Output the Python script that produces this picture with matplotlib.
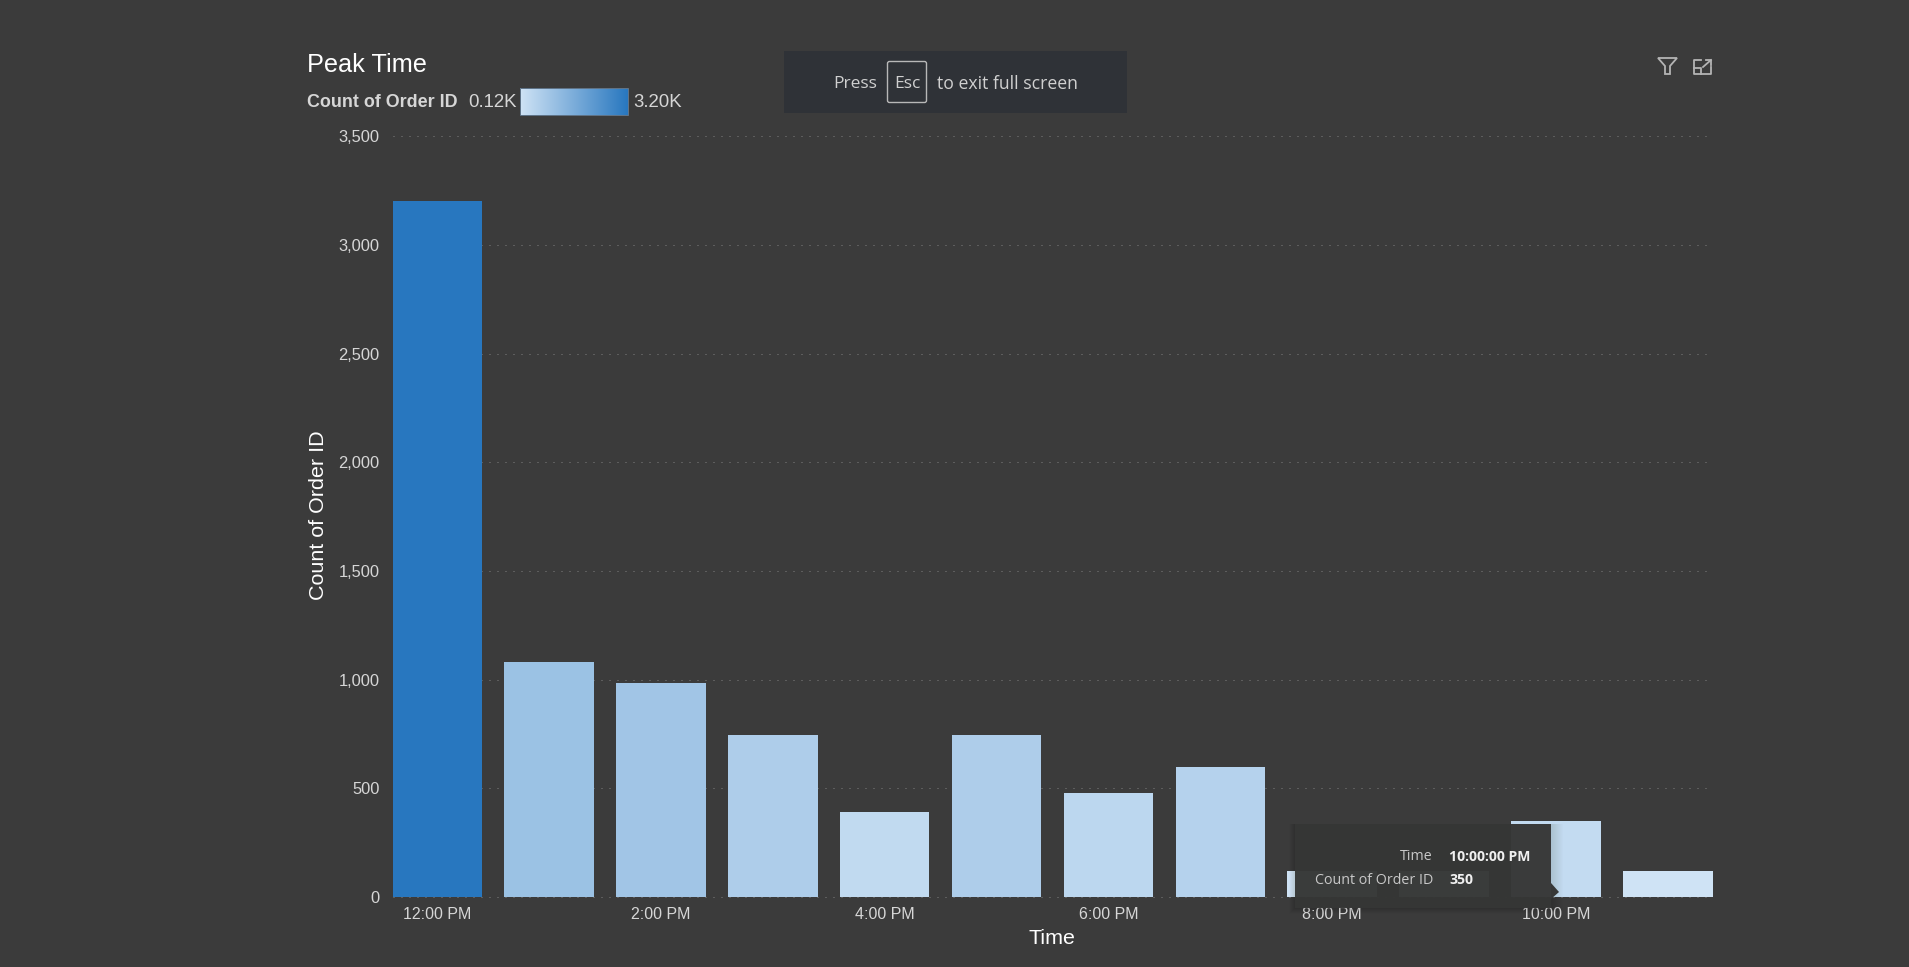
import matplotlib
matplotlib.use("Agg")
import matplotlib.pyplot as plt
import numpy as np
from matplotlib.colors import LinearSegmentedColormap, Normalize
from matplotlib.patches import Rectangle, Polygon, FancyBboxPatch

plt.rcParams['font.family'] = ['Liberation Sans', 'DejaVu Sans']

hours = ["12:00 PM", "1:00 PM", "2:00 PM", "3:00 PM", "4:00 PM", "5:00 PM",
         "6:00 PM", "7:00 PM", "8:00 PM", "9:00 PM", "10:00 PM", "11:00 PM"]
order_counts = [3204, 1080, 985, 745, 390, 744, 480, 600, 121, 120, 350, 120]
y_ticks = [0, 500, 1000, 1500, 2000, 2500, 3000, 3500]

W, H = 1909, 967
BG = "#3b3b3b"
TXT = "#d6d6d6"

# px to pt, figure is at dpi 100
def px(p):
    return p * 0.72

fig = plt.figure(figsize=(W / 100, H / 100), dpi=100, facecolor=BG)

# main chart, bars start at x=392.5 and baseline sits at y=897
ax = fig.add_axes([392.5 / W, (H - 897) / H, (1712.5 - 392.5) / W, (897 - 136.5) / H], facecolor=BG)
cmap = LinearSegmentedColormap.from_list("blues", ["#cfe3f5", "#2877bf"])
norm = Normalize(min(order_counts), max(order_counts))
x = np.arange(len(hours))
ax.bar(x, order_counts, width=0.8, color=cmap(norm(order_counts)), zorder=2)
ax.set_xlim(-0.4, len(hours) - 0.6)
ax.set_ylim(0, 3500)
ax.set_xticks(x[::2])
ax.set_xticklabels(hours[::2], color=TXT, fontsize=px(16))
ax.set_yticks(y_ticks)
ax.set_yticklabels([f"{v:,}" for v in y_ticks], color=TXT, fontsize=px(16.5))
ax.tick_params(axis="both", length=0)
ax.tick_params(axis="x", pad=7)
ax.tick_params(axis="y", pad=9.5)
ax.grid(axis="y", color="#808080", lw=0.72, linestyle=(0, (1, 7)), zorder=1)
for line in ax.get_ygridlines():
    line.set_clip_on(False)
ax.set_axisbelow(True)
for s in ax.spines.values():
    s.set_visible(False)

# overlay in pixel coordinates for everything that is not the chart itself
ov = fig.add_axes([0, 0, 1, 1], facecolor="none")
ov.set_xlim(0, W)
ov.set_ylim(H, 0)
ov.axis("off")

ov.text(307, 65, "Peak Time", color="white", fontsize=px(25.2), va="center")
ov.text(1052, 938, "Time", color="white", fontsize=px(21.5), ha="center", va="center")
ov.text(319, 515, "Count of Order ID", color="white", fontsize=px(21.5), rotation=90, ha="center", va="center")

# legend gradient
ov.text(307, 102.5, "Count of Order ID", color=TXT, fontsize=px(17.9), fontweight="bold", va="center")
ov.text(517, 102.5, f"{min(order_counts) / 1000:.2f}K", color=TXT, fontsize=px(18.6), ha="right", va="center")
ov.text(633, 102.5, f"{max(order_counts) / 1000:.2f}K", color=TXT, fontsize=px(18.6), va="center")
grad = np.linspace(0, 1, 256).reshape(1, -1)
ov.imshow(grad, cmap=cmap, extent=(520, 628, 115, 88), aspect="auto", zorder=2)
ov.add_patch(Rectangle((520, 88), 108, 27, fill=False, ec="#5f7387", lw=0.72, zorder=3))
ov.set_xlim(0, W)
ov.set_ylim(H, 0)

# full screen banner
ui_font = ['Open Sans', 'DejaVu Sans']
ov.add_patch(Rectangle((784, 51), 343, 62, fc="#2f3237", ec="none", zorder=4))
ov.add_patch(FancyBboxPatch((887.5, 61.5), 39, 41, boxstyle="round,pad=0,rounding_size=2",
                            fc="none", ec="#b8b8b8", lw=1, zorder=5))
ov.text(855, 84, "Press", color="#d0d0d0", fontsize=px(17.4), family=ui_font, ha="center", va="center", zorder=5)
ov.text(907, 84, "Esc", color="#d0d0d0", fontsize=px(17.4), family=ui_font, ha="center", va="center", zorder=5)
ov.text(937, 84, "to exit full screen", color="#d0d0d0", fontsize=px(17.6), family=ui_font, va="center", zorder=5)

# filter and expand icons
icon = "#b4b4b4"
ov.add_patch(Polygon([(1658, 58), (1677, 58), (1670, 66), (1670, 74), (1665, 74), (1665, 66)],
                     fill=False, ec=icon, lw=1.3))
ov.plot([1701, 1694, 1694, 1711, 1711], [60, 60, 74, 74, 67], color=icon, lw=1.3)
ov.plot([1694, 1701, 1701], [68, 68, 74], color=icon, lw=1.3)
ov.plot([1703, 1711], [67, 60], color=icon, lw=1.3)
ov.plot([1706, 1711, 1711], [60, 60, 65], color=icon, lw=1.3)

# tooltip sits on top of the bars and hides half of the 8 PM label
for grow in range(1, 13):
    ov.add_patch(Rectangle((1295 - grow // 2, 824), 256 + grow // 2 + grow, 84 + grow // 2,
                           fc="#303030", ec="none", alpha=0.012, zorder=6))
ov.add_patch(Rectangle((1295, 824), 256, 84, fc="#363736", ec="none", alpha=0.97, zorder=7))
ov.add_patch(Polygon([(1551, 883), (1559, 892), (1551, 899)], fc="#363736", ec="none", zorder=7))
tip = ['Open Sans', 'DejaVu Sans']
ov.text(1433, 857, "Time", color="#c8c8c8", fontsize=px(14.2), family=tip, ha="right", va="center", zorder=8)
ov.text(1433, 880, "Count of Order ID", color="#c8c8c8", fontsize=px(14.2), family=tip, ha="right", va="center", zorder=8)
ov.text(1449, 857, "10:00:00 PM", color="#f0f0f0", fontsize=px(14), family=tip, fontweight="bold", va="center", zorder=8)
ov.text(1449, 880, str(order_counts[10]), color="#f0f0f0", fontsize=px(14), family=tip, fontweight="bold", va="center", zorder=8)

fig.savefig("out.png", dpi=100, facecolor=BG)
